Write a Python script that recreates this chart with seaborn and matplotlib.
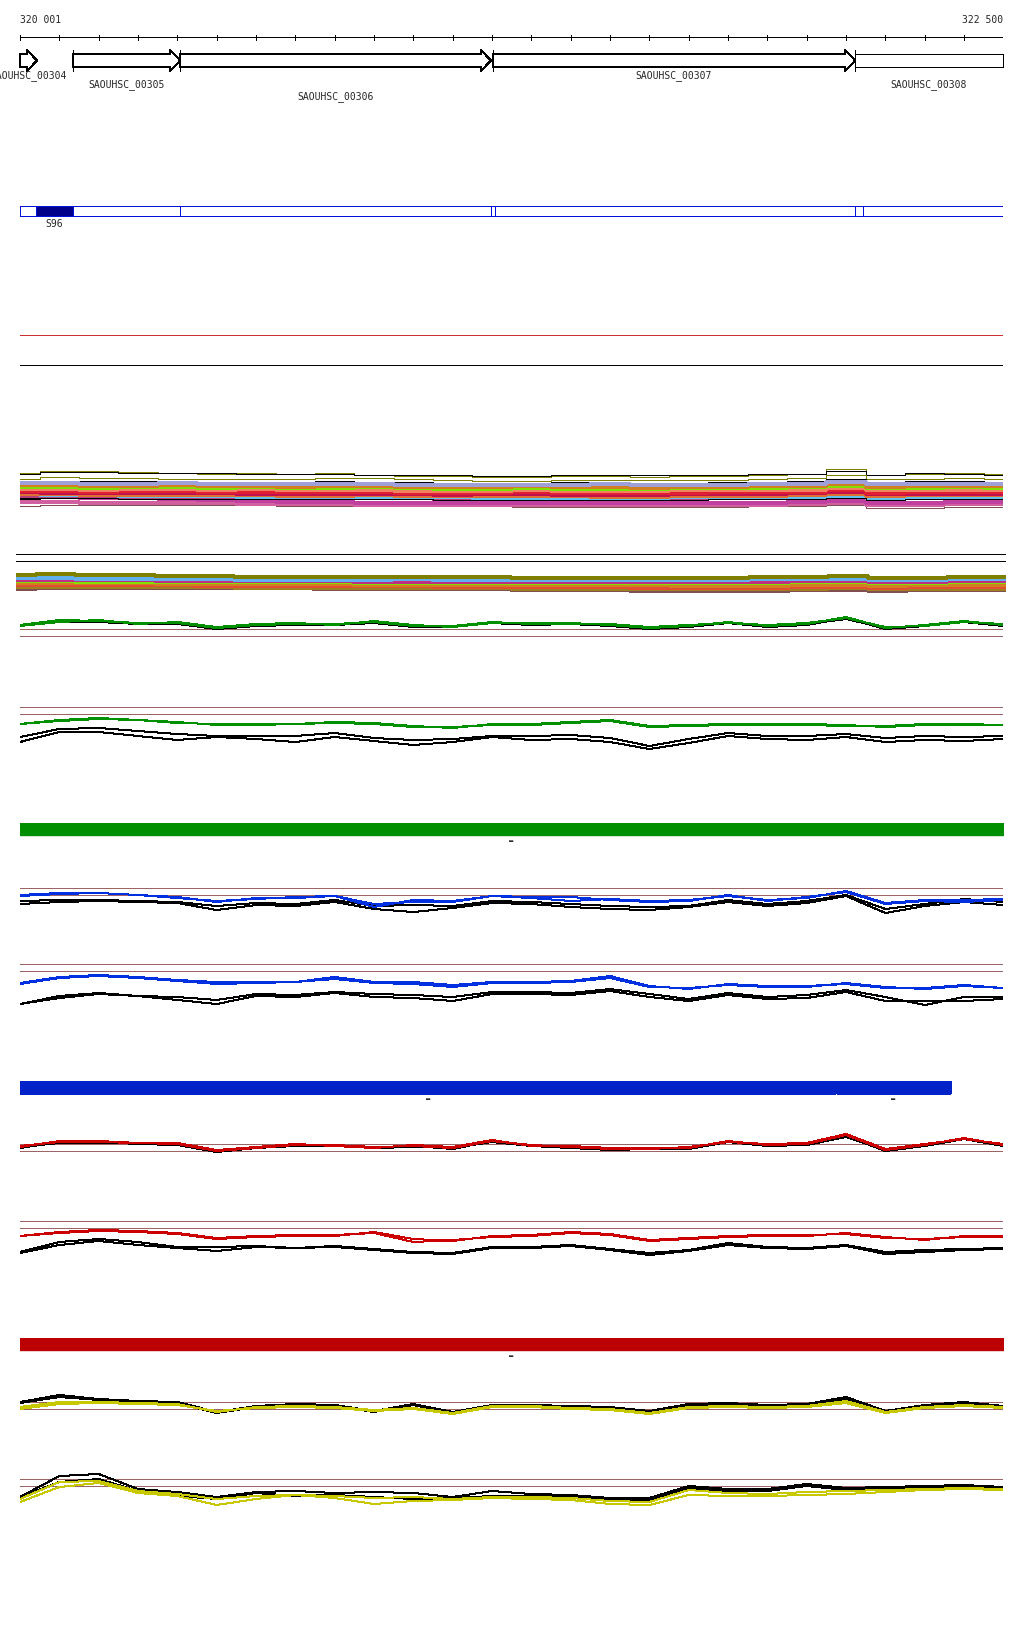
import numpy as np
import pandas as pd
import seaborn as sns
from matplotlib import pyplot as plt
from matplotlib.patches import Polygon, Rectangle

W, H = 1024, 1640
START, END = 320001, 322500
X0, X1 = 20, 1003          # pixel columns of START and END
LW = 0.72                  # one pixel

# sample positions of every signal track (every 100 bp)
POS = list(range(START, END, 100)) + [END]

# ---- genes ----
GENE_NAMES = ["SAOUHSC_00304", "SAOUHSC_00305", "SAOUHSC_00306",
              "SAOUHSC_00307", "SAOUHSC_00308"]
GENE_START = [319990, 320136, 320408, 321203, 322124]
GENE_END = [320044, 320408, 321198, 322124, 322640]
GENE_ROW = [0, 1, 2, 0, 1]

# ---- feature track (S96) ----
FEAT_EDGES = [320001, 320042, 320136, 320408, 321198, 321208,
              322124, 322144, 322500]
FEAT_NAME = "S96"
FEAT_FILLED = 1   # index of the filled segment

# ---- strand bars ----
GREEN_SEGS = [(320001, 322500)]
BLUE_SEGS = [(320001, 322074), (322079, 322365)]
RED_SEGS = [(320001, 322500)]

# ---- multi-colour band A ----
A_OLIVE_1 = [36, 38, 38, 37, 36, 35, 36, 35, 36, 34, 33, 33, 32, 32, 33, 33, 32, 33, 33, 34, 35, 40, 34, 35, 36, 35]
A_BLACK_1 = [35, 37, 37, 36, 36, 36, 35, 35, 35, 34, 34, 34, 33, 33, 34, 34, 34, 34, 34, 35, 35, 38, 34, 36, 35, 34]
A_OLIVE_2 = [30, 32, 31, 31, 30, 30, 30, 30, 31, 31, 30, 29, 28, 28, 29, 29, 29, 29, 29, 30, 31, 34, 30, 30, 31, 30]
A_BLACK_2 = [27, 28, 28, 28, 27, 27, 27, 27, 28, 27, 27, 26, 26, 26, 27, 27, 26, 26, 27, 27, 28, 30, 27, 28, 28, 27]
A_LAVENDER = [26, 26, 25, 25, 26, 25, 25, 25, 25, 25, 24, 24, 24, 24, 24, 25, 24, 24, 24, 25, 25, 27, 25, 25, 25, 25]
A_ORANGE = [24, 24, 23, 23, 24, 23, 23, 22, 23, 23, 22, 22, 22, 23, 22, 22, 21, 22, 22, 23, 23, 25, 22, 23, 23, 23]
A_LIME = [22, 22, 21, 22, 22, 21, 22, 21, 21, 22, 21, 20, 20, 21, 20, 20, 20, 21, 21, 21, 22, 23, 21, 21, 22, 21]
A_SALMON = [20, 20, 19, 20, 20, 19, 20, 19, 19, 19, 18, 18, 18, 19, 18, 18, 18, 19, 19, 19, 19, 21, 19, 19, 19, 19]
A_RED = [18, 18, 17, 18, 18, 17, 17, 17, 17, 17, 16, 16, 16, 17, 16, 16, 16, 16, 17, 17, 17, 19, 16, 17, 17, 17]
A_CRIMSON = [17, 16, 16, 16, 16, 16, 15, 15, 15, 15, 15, 14, 15, 15, 14, 14, 14, 15, 15, 15, 16, 17, 15, 15, 15, 15]
A_ORANGE_2 = [15, 15, 14, 14, 14, 14, 14, 13, 13, 14, 13, 13, 13, 13, 13, 12, 12, 13, 13, 13, 14, 15, 13, 14, 14, 14]
A_SKY = [16, 14, 14, 13, 13, 13, 12, 12, 12, 12, 12, 12, 11, 11, 11, 11, 11, 12, 12, 12, 12, 13, 11, 12, 12, 12]
A_PLUM = [13, 13, 12, 12, 12, 12, 11, 11, 11, 11, 11, 10, 10, 10, 10, 10, 10, 10, 11, 11, 11, 12, 10, 11, 11, 11]
A_BLACK_3 = [11, 11, 11, 10, 10, 10, 10, 10, 10, 10, 10, 9, 9, 9, 9, 9, 9, 9, 10, 10, 10, 11, 9, 10, 10, 10]
A_MAGENTA = [13, 12, 11, 11, 10, 9, 8, 7, 7, 6, 6, 6, 6, 6, 6, 6, 6, 6, 6, 6, 7, 8, 6, 6, 7, 7]
A_BLACK_4 = [10, 9, 8, 8, 8, 8, 8, 8, 7, 7, 7, 7, 6, 6, 5, 5, 5, 6, 6, 6, 7, 8, 5, 6, 6, 6]
A_PINK = [7, 7, 6, 6, 6, 6, 5, 5, 5, 4, 4, 4, 4, 4, 4, 4, 4, 4, 4, 4, 5, 6, 4, 4, 5, 5]
A_BROWN = [3, 4, 4, 4, 4, 4, 4, 3, 3, 3, 3, 3, 3, 2, 2, 2, 2, 2, 2, 3, 3, 4, 1, 1, 2, 2]

# ---- multi-colour band B ----
B_FLAT = [40, 33, 18]
B_OLIVE = [19, 20, 19, 19, 18, 18, 17, 17, 17, 17, 17, 17, 17, 16, 16, 16, 16, 16, 16, 17, 17, 18, 16, 16, 17, 17]
B_SKY = [16, 16, 15, 15, 15, 15, 14, 14, 14, 14, 15, 14, 14, 14, 14, 14, 14, 14, 14, 15, 15, 15, 14, 14, 15, 15]
B_MAGENTA = [14, 14, 14, 14, 13, 13, 13, 13, 13, 12, 12, 12, 12, 12, 12, 12, 12, 12, 12, 12, 13, 13, 12, 12, 13, 13]
B_LIME = [13, 13, 12, 12, 12, 12, 12, 12, 12, 11, 11, 11, 11, 11, 11, 11, 11, 11, 11, 11, 12, 12, 11, 11, 12, 12]
B_ORANGE = [11, 11, 11, 11, 10, 10, 10, 10, 10, 9, 9, 9, 9, 9, 9, 9, 9, 8, 8, 8, 9, 9, 8, 9, 9, 9]
B_GOLD = [7, 7, 7, 7, 7, 7, 6, 6, 6, 6, 6, 6, 6, 5, 5, 5, 5, 5, 5, 5, 5, 6, 5, 5, 5, 5]
B_RED = [9, 9, 9, 9, 9, 8, 8, 8, 8, 8, 8, 7, 7, 7, 7, 7, 6, 6, 6, 6, 7, 7, 6, 7, 7, 7]
B_BROWN = [5, 6, 6, 6, 6, 6, 6, 6, 5, 5, 5, 5, 5, 4, 4, 4, 3, 3, 3, 3, 4, 4, 3, 4, 4, 4]

# ---- top flat lines ----
TOP_RED = 44
TOP_BLACK = 14

# ---- paired signal panels (value 0 = lower reference line) ----
REF_LINES = [0, 7]
G1_GREEN_A = [11, 16, 15, 13, 13, 8, 11, 12, 12, 14, 10, 10, 14, 12, 13, 11, 8, 10, 14, 10, 12, 19, 8, 11, 15, 11]
G1_GREEN_B = [10, 14, 16, 12, 14, 9, 12, 13, 11, 15, 11, 9, 13, 13, 12, 12, 9, 11, 13, 11, 13, 18, 9, 10, 14, 12]
G1_BLACK_A = [10, 15, 14, 12, 12, 7, 10, 11, 12, 13, 9, 9, 13, 11, 12, 10, 7, 9, 13, 9, 11, 18, 7, 10, 14, 10]
G1_BLACK_B = [11, 14, 15, 13, 13, 8, 11, 12, 11, 13, 10, 10, 13, 12, 12, 11, 8, 10, 13, 10, 12, 17, 8, 11, 14, 11]

G2_GREEN_A = [-10, -6, -4, -6, -9, -10, -10, -10, -8, -9, -12, -14, -10, -10, -8, -6, -12, -11, -10, -11, -10, -11, -13, -11, -10, -11]
G2_GREEN_B = [-10, -7, -5, -6, -8, -11, -11, -10, -9, -10, -13, -13, -11, -11, -9, -7, -13, -12, -11, -10, -11, -12, -12, -10, -11, -11]
G2_BLACK_A = [-23, -15, -14, -17, -20, -22, -22, -22, -19, -24, -26, -25, -22, -22, -21, -24, -32, -25, -19, -22, -22, -20, -24, -22, -23, -22]
G2_BLACK_B = [-28, -18, -18, -22, -26, -23, -25, -28, -23, -27, -31, -28, -23, -26, -25, -28, -35, -29, -22, -25, -26, -23, -28, -26, -27, -25]

B1_BLUE_A = [0, 2, 2, 0, -2, -7, -3, -3, -1, -9, -7, -7, -1, -2, -2, -5, -7, -6, 0, -6, -2, 3, -9, -6, -7, -5]
B1_BLUE_B = [-1, 1, 2, 0, -3, -6, -4, -2, -1, -12, -5, -6, -1, -3, -6, -4, -6, -5, -1, -5, -3, 4, -8, -5, -5, -4]
B1_BLACK_A = [-6, -5, -5, -6, -7, -11, -8, -9, -5, -11, -10, -11, -6, -7, -9, -11, -12, -11, -5, -9, -6, 0, -14, -9, -4, -7]
B1_BLACK_B = [-9, -7, -6, -7, -8, -15, -10, -11, -7, -14, -17, -13, -8, -9, -12, -14, -15, -12, -7, -11, -8, -1, -18, -11, -7, -10]

B2_BLUE_A = [-12, -6, -4, -6, -9, -11, -11, -11, -6, -11, -11, -14, -11, -11, -10, -5, -15, -18, -13, -15, -16, -12, -16, -18, -15, -17]
B2_BLUE_B = [-13, -7, -5, -7, -10, -13, -12, -11, -8, -12, -13, -16, -12, -12, -11, -7, -16, -17, -14, -16, -15, -13, -17, -17, -14, -17]
B2_BLACK_A = [-33, -25, -22, -25, -26, -29, -23, -24, -21, -23, -24, -26, -21, -21, -22, -18, -23, -28, -22, -26, -24, -19, -26, -34, -26, -26]
B2_BLACK_B = [-33, -27, -23, -25, -29, -33, -25, -26, -22, -26, -27, -30, -23, -23, -24, -20, -26, -30, -24, -28, -27, -21, -30, -30, -30, -28]

R1_RED_A = [4, 10, 9, 8, 7, 0, 3, 6, 6, 4, 5, 3, 10, 6, 4, 2, 3, 3, 10, 6, 7, 16, 1, 6, 13, 6]
R1_RED_B = [5, 9, 10, 8, 8, 1, 4, 7, 5, 3, 6, 4, 11, 5, 5, 3, 2, 4, 9, 7, 8, 17, 2, 7, 12, 7]
R1_BLACK_A = [3, 9, 9, 7, 6, -1, 3, 5, 6, 3, 4, 3, 9, 5, 3, 1, 2, 2, 9, 5, 6, 15, 0, 5, 12, 5]
R1_BLACK_B = [4, 8, 8, 8, 7, 0, 4, 6, 5, 4, 5, 2, 10, 6, 4, 2, 3, 3, 10, 6, 6, 14, 1, 6, 13, 6]

R2_RED_A = [-8, -4, -2, -3, -5, -10, -8, -7, -8, -4, -11, -13, -8, -7, -4, -6, -12, -10, -8, -7, -8, -5, -9, -12, -8, -9]
R2_RED_B = [-8, -5, -3, -4, -6, -11, -9, -8, -7, -5, -14, -12, -9, -8, -5, -7, -13, -11, -9, -8, -7, -6, -10, -11, -9, -8]
R2_BLACK_A = [-24, -14, -11, -14, -19, -19, -18, -20, -18, -21, -24, -25, -19, -19, -17, -21, -25, -22, -15, -19, -20, -17, -24, -22, -21, -20]
R2_BLACK_B = [-25, -17, -13, -17, -20, -23, -19, -20, -19, -22, -25, -26, -20, -20, -18, -22, -27, -23, -17, -20, -21, -18, -26, -24, -22, -21]

Y1_YELLOW_A = [2, 7, 7, 6, 5, -3, 2, 3, 2, -1, 1, -4, 3, 3, 1, 0, -4, 2, 3, 2, 3, 8, -3, 2, 4, 2]
Y1_YELLOW_B = [0, 5, 6, 5, 4, -2, 1, 2, 1, -2, 0, -5, 2, 2, 0, -1, -5, 1, 2, 1, 2, 6, -4, 1, 3, 1]
Y1_BLACK_A = [7, 14, 10, 8, 7, -3, 3, 5, 4, -2, 5, -3, 4, 4, 3, 2, -2, 5, 6, 4, 5, 12, -2, 4, 7, 3]
Y1_BLACK_B = [6, 12, 9, 8, 6, -4, 2, 4, 3, -3, 4, -4, 3, 3, 2, 1, -3, 4, 5, 3, 4, 10, -3, 3, 6, 2]

Y2_YELLOW_A = [-13, 4, 5, -5, -8, -13, -10, -9, -10, -12, -11, -13, -11, -11, -12, -15, -16, -4, -7, -8, -6, -5, -4, -3, -2, -3]
Y2_YELLOW_B = [-16, -1, 3, -7, -10, -19, -13, -9, -12, -18, -15, -14, -12, -13, -14, -18, -19, -9, -10, -10, -9, -8, -6, -4, -3, -4]
Y2_BLACK_A = [-11, 10, 12, -3, -6, -11, -6, -5, -7, -6, -7, -11, -5, -8, -9, -12, -12, 0, -3, -3, 2, -2, -1, 0, 1, -1]
Y2_BLACK_B = [-11, 4, 7, -5, -10, -13, -7, -10, -9, -11, -13, -12, -10, -10, -11, -14, -14, -2, -5, -5, 0, -4, -3, -2, -1, -2]

# colours
GREEN, BLUE, RED, YELLOW = "#009000", "#0030e0", "#cc0000", "#c8c800"
REF = "#9c6464"

sns.set_theme(style="white")
plt.rcParams["font.family"] = ["DejaVu Sans Mono", "DejaVu Sans"]
plt.rcParams["lines.antialiased"] = False
plt.rcParams["patch.antialiased"] = False

fig = plt.figure(figsize=(W / 100, H / 100), dpi=100)


def track(top, bottom, vmin, vmax, x0=X0, x1=X1):
    ax = fig.add_axes([x0 / W, 1 - bottom / H, (x1 - x0) / W, (bottom - top) / H])
    ax.set_xlim(START, END)
    ax.set_ylim(vmin, vmax)
    ax.axis("off")
    return ax


def draw_lines(ax, series, step=False, lw=LW):
    rows = []
    for name, (color, vals) in series.items():
        rows += [{"pos": p, "value": v, "series": name} for p, v in zip(POS, vals)]
    df = pd.DataFrame(rows)
    pal = {k: c for k, (c, _) in series.items()}
    sns.lineplot(data=df, x="pos", y="value", hue="series", palette=pal,
                 hue_order=list(series), legend=False, lw=lw, ax=ax,
                 drawstyle="steps-mid" if step else "default", sort=False,
                 estimator=None)
    ax.set_xlim(START, END)


# ruler + genes (units are pixel rows)
ax = track(0, 110, 110, 0)
ax.hlines(38, START, END, color="black", lw=LW)
ax.vlines(POS, 35.5, 41, color="black", lw=LW)
ax.text(START, 20, "320 001", fontsize=7, ha="left", va="center")
ax.text(END, 20, "322 500", fontsize=7, ha="right", va="center")
HEAD = 25
ROW_Y = [76, 85, 97]
for name, s, e, row in zip(GENE_NAMES, GENE_START, GENE_END, GENE_ROW):
    s0, e0 = max(s, START), min(e, END)
    if e <= END:
        pts = [(s0, 55), (e - HEAD, 55), (e - HEAD, 51), (e, 61.5),
               (e - HEAD, 72), (e - HEAD, 68), (s0, 68)]
    else:
        pts = [(s0, 55), (e0, 55), (e0, 68), (s0, 68)]
    ax.add_patch(Polygon(pts, closed=True, facecolor="white",
                         edgecolor="black", lw=LW, clip_on=False))
    if s >= START:
        ax.vlines(s, 51, 72, color="black", lw=LW)
    ax.text((s0 + e0) / 2, ROW_Y[row], name, fontsize=7,
            ha="center", va="center", clip_on=False)

# feature track
ax = track(200, 235, 235, 200)
for i in range(len(FEAT_EDGES) - 1):
    a, b = FEAT_EDGES[i], FEAT_EDGES[i + 1]
    ax.add_patch(Rectangle((a, 207), b - a, 10,
                           facecolor="#00008b" if i == FEAT_FILLED else "none",
                           edgecolor="#0010dd", lw=LW))
ax.text((FEAT_EDGES[FEAT_FILLED] + FEAT_EDGES[FEAT_FILLED + 1]) / 2, 224,
        FEAT_NAME, fontsize=7, ha="center", va="center")

# flat lines
ax = track(320, 380, 0, 60)
ax.hlines(TOP_RED, START, END, color="#cc3030", lw=LW)
ax.hlines(TOP_BLACK, START, END, color="black", lw=LW)

# band A: thin outer lines, dense coloured core
ax = track(460, 515, -5, 50)
draw_lines(ax, {
    "olive1": ("#808000", A_OLIVE_1), "black1": ("black", A_BLACK_1),
    "olive2": ("#808000", A_OLIVE_2), "black2": ("black", A_BLACK_2),
    "brown": ("#805050", A_BROWN), "black4": ("black", A_BLACK_4),
}, step=True)
draw_lines(ax, {
    "pink": ("#d060a0", A_PINK), "magenta": ("#c040a0", A_MAGENTA),
    "plum": ("#b04080", A_PLUM), "sky": ("#60c0f0", A_SKY),
    "orange2": ("#e07030", A_ORANGE_2), "crimson": ("#c01050", A_CRIMSON),
    "red": ("#e02030", A_RED), "salmon": ("#f08060", A_SALMON),
    "lime": ("#80e000", A_LIME), "orange": ("#d08020", A_ORANGE),
    "lavender": ("#a0a0d8", A_LAVENDER),
}, step=True, lw=1.5)
draw_lines(ax, {"black3": ("black", A_BLACK_3)}, step=True)

# band B
ax = track(550, 600, -5, 45, x0=16, x1=1006)
ax.hlines(B_FLAT, START, END, color="black", lw=LW)
draw_lines(ax, {
    "brown": ("#805050", B_BROWN), "gold": ("#a08020", B_GOLD),
    "red": ("#e05030", B_RED), "orange": ("#d08020", B_ORANGE),
    "lime": ("#80e000", B_LIME), "magenta": ("#c03080", B_MAGENTA),
    "sky": ("#60b0f0", B_SKY), "olive": ("#808000", B_OLIVE),
}, step=True, lw=1.5)


def panel(ref_px, color, ca, cb, ka, kb):
    ax = track(ref_px - 30, ref_px + 45, -45, 30)
    ax.hlines(REF_LINES, START, END, color=REF, lw=LW)
    draw_lines(ax, {"ka": ("black", ka), "kb": ("black", kb),
                    "ca": (color, ca), "cb": (color, cb)})


def strand_bar(top, segs, color):
    ax = track(top, top + 21, 21, 0)
    ax.broken_barh([(a, b - a) for a, b in segs], (0, 12), color=color)
    for a, b in segs:
        ax.text((a + b) / 2, 17, "-", fontsize=10, fontweight="bold",
                ha="center", va="center")


panel(637, GREEN, G1_GREEN_A, G1_GREEN_B, G1_BLACK_A, G1_BLACK_B)
panel(715, GREEN, G2_GREEN_A, G2_GREEN_B, G2_BLACK_A, G2_BLACK_B)
strand_bar(824, GREEN_SEGS, "#008f00")
panel(896, BLUE, B1_BLUE_A, B1_BLUE_B, B1_BLACK_A, B1_BLACK_B)
panel(972, BLUE, B2_BLUE_A, B2_BLUE_B, B2_BLACK_A, B2_BLACK_B)
strand_bar(1082, BLUE_SEGS, "#0022c8")
panel(1152, RED, R1_RED_A, R1_RED_B, R1_BLACK_A, R1_BLACK_B)
panel(1229, RED, R2_RED_A, R2_RED_B, R2_BLACK_A, R2_BLACK_B)
strand_bar(1339, RED_SEGS, "#bb0000")
panel(1410, YELLOW, Y1_YELLOW_A, Y1_YELLOW_B, Y1_BLACK_A, Y1_BLACK_B)
panel(1487, YELLOW, Y2_YELLOW_A, Y2_YELLOW_B, Y2_BLACK_A, Y2_BLACK_B)

fig.savefig("out.png", dpi=100, facecolor="white")
